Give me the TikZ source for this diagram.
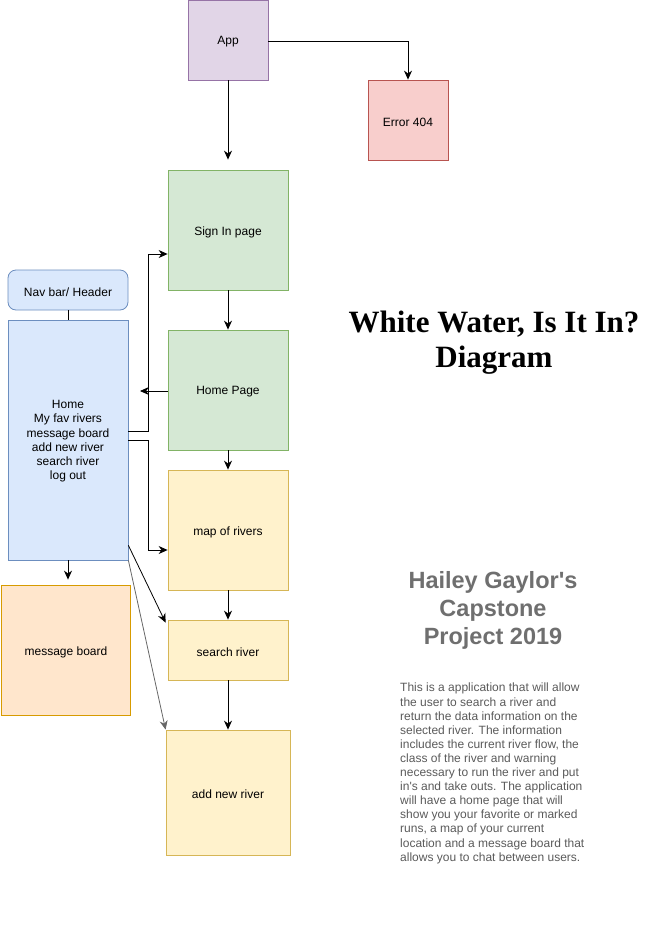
\documentclass[tikz,border=0pt]{standalone}
\usepackage{fontspec}
\setmainfont{Liberation Sans}[Ligatures=TeXOff]
\newfontfamily\titlefont{Liberation Serif}
\usetikzlibrary{arrows.meta}
\definecolor{purpf}{HTML}{E1D5E7}\definecolor{purpd}{HTML}{9673A6}
\definecolor{redf}{HTML}{F8CECC}\definecolor{redd}{HTML}{B85450}
\definecolor{grnf}{HTML}{D5E8D4}\definecolor{grnd}{HTML}{82B366}
\definecolor{yelf}{HTML}{FFF2CC}\definecolor{yeld}{HTML}{D6B656}
\definecolor{bluf}{HTML}{DAE8FC}\definecolor{blud}{HTML}{6C8EBF}
\definecolor{orgf}{HTML}{FFE6CC}\definecolor{orgd}{HTML}{D79B00}
\definecolor{subgray}{HTML}{6F6F6F}
\definecolor{txtgray}{HTML}{5A5A5A}
\newcommand{\lowtxt}[1]{\raisebox{-2pt}[\height][\depth]{#1}}
\tikzset{
  box/.style={draw, line width=0.8pt, inner sep=0pt, align=center, font=\fontsize{12}{14.2}\selectfont},
  purplebox/.style={box, fill=purpf, draw=purpd},
  redbox/.style={box, fill=redf, draw=redd},
  greenbox/.style={box, fill=grnf, draw=grnd},
  yellowbox/.style={box, fill=yelf, draw=yeld},
  bluebox/.style={box, fill=bluf, draw=blud},
  orangebox/.style={box, fill=orgf, draw=orgd},
  arr/.style={draw, line width=0.8pt, -{Stealth[length=9pt,width=8pt]}},
  plain/.style={draw, line width=0.8pt},
}
\begin{document}
\begin{tikzpicture}[x=1pt,y=-1pt]
\useasboundingbox (0,0) rectangle (669,951);
% nodes
\node[purplebox, minimum width=80pt, minimum height=80pt] (app) at (228,40) {\lowtxt{App}};
\node[redbox, minimum width=80pt, minimum height=80pt] (err) at (408,120) {\lowtxt{Error 404}};
\node[greenbox, minimum width=120pt, minimum height=120pt] (signin) at (228,230) {\lowtxt{Sign In page}};
\node[greenbox, minimum width=120pt, minimum height=120pt] (home) at (228,390) {\lowtxt{Home Page}};
\node[yellowbox, minimum width=120pt, minimum height=120pt] (map) at (228,530) {\lowtxt{map of rivers}};
\node[yellowbox, minimum width=120pt, minimum height=60pt] (search) at (228,650) {\lowtxt{search river}};
\node[yellowbox, minimum width=124pt, minimum height=125pt] (addnew) at (228,792.5) {\lowtxt{add new river}};
\node[bluebox, rounded corners=8pt, minimum width=120pt, minimum height=40pt] (nav) at (68,290) {\lowtxt{Nav bar/ Header}};
\node[bluebox, minimum width=120pt, minimum height=240pt, text depth=-2pt] (menu) at (68,440) {Home\\My fav rivers\\message board\\add new river\\search river\\log out};
\node[orangebox, minimum width=129pt, minimum height=130pt] (msg) at (66,650) {\lowtxt{message board}};
% text
\node[font=\titlefont\bfseries\fontsize{31}{35}\selectfont, align=center] (title) at (494,343) {White Water, Is It In?\\Diagram};
\node[font=\bfseries\fontsize{23.5}{28}\selectfont, text=subgray, align=center] (sub) at (493,610) {Hailey Gaylor's\\Capstone\\Project 2019};
\node[font=\fontsize{12}{14.1}\selectfont, text=txtgray, align=left, anchor=north west, inner sep=0pt] (desc) at (400,683) {This is a application that will allow\\the user to search a river and\\return the data information on the\\selected river. The information\\includes the current river flow, the\\class of the river and warning\\necessary to run the river and put\\in's and take outs. The application\\will have a home page that will\\show you your favorite or marked\\runs, a map of your current\\location and a message board that\\allows you to chat between users.};
% coordinates
\coordinate (homeend) at (140,391);
% connectors
\draw[arr, shorten >=10pt] (app) -- (signin);
\draw[arr] (app.east |- 0,41) -| (err.north);
\draw[arr] (signin) -- (home);
\draw[arr] (home) -- (map);
\draw[arr] (map) -- (search);
\draw[arr] (search) -- (addnew);
\draw[plain] (nav) -- (menu);
\draw[arr, shorten >=5pt] (menu) -- (msg.north -| menu.south);
\draw[arr] (home.west |- homeend) -- (homeend);
\draw[arr] ([yshift=9pt]menu.east) -- (148,431) |- ([yshift=-24pt]signin.west);
\draw[arr] (menu.east) -- (148,440) |- ([yshift=-20pt]map.west);
\draw[arr] ([yshift=15pt]menu.south east) -- ([xshift=-2pt,yshift=-3pt]search.north west);
\draw[arr, draw=gray!80!black] (menu.south east) -- (addnew.north west);
\end{tikzpicture}
\end{document}
